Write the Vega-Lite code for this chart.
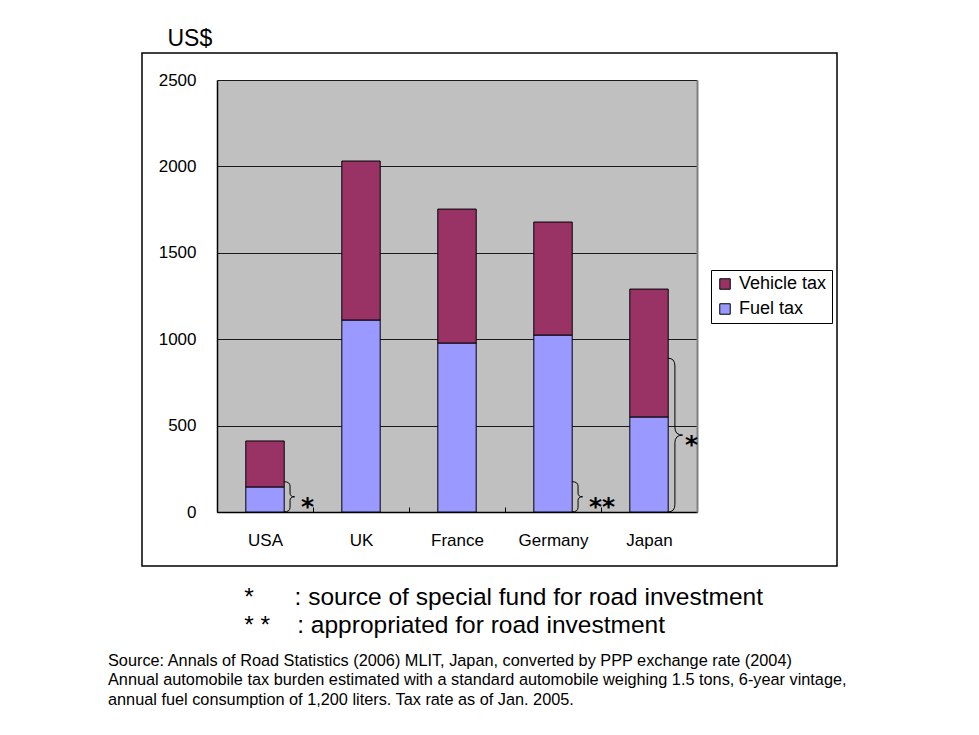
{
  "$schema": "https://vega.github.io/schema/vega-lite/v6.json",
  "width": 695,
  "height": 513,
  "autosize": {"type": "none"},
  "padding": {"left": 142, "top": 53, "right": 142, "bottom": 169},
  "background": "white",
  "config": {
    "font": "Liberation Sans",
    "view": {"stroke": "black", "strokeWidth": 1.5, "fill": "white"}
  },
  "datasets": {
    "taxes": [
      {"country": "USA", "type": "Fuel tax", "amount": 145},
      {"country": "USA", "type": "Vehicle tax", "amount": 266},
      {"country": "UK", "type": "Fuel tax", "amount": 1111},
      {"country": "UK", "type": "Vehicle tax", "amount": 920},
      {"country": "France", "type": "Fuel tax", "amount": 978},
      {"country": "France", "type": "Vehicle tax", "amount": 775},
      {"country": "Germany", "type": "Fuel tax", "amount": 1024},
      {"country": "Germany", "type": "Vehicle tax", "amount": 654},
      {"country": "Japan", "type": "Fuel tax", "amount": 550},
      {"country": "Japan", "type": "Vehicle tax", "amount": 740}
    ],
    "braces": [
      {"country": "USA", "note": "*", "reach": 175, "mid": 88},
      {"country": "Germany", "note": "**", "reach": 175, "mid": 88},
      {"country": "Japan", "note": "*", "reach": 890, "mid": 445}
    ]
  },
  "title": {
    "text": [
      "\u200b\u00a0\u00a0\u00a0\u00a0\u00a0\u00a0\u00a0\u00a0\u00a0\u00a0\u00a0\u00a0\u00a0\u00a0\u00a0\u00a0\u00a0\u00a0\u00a0\u00a0*\u00a0\u00a0\u00a0\u00a0\u00a0\u00a0: source of special fund for road investment",
      "\u200b\u00a0\u00a0\u00a0\u00a0\u00a0\u00a0\u00a0\u00a0\u00a0\u00a0\u00a0\u00a0\u00a0\u00a0\u00a0\u00a0\u00a0\u00a0\u00a0\u00a0*\u00a0*\u00a0\u00a0\u00a0\u00a0: appropriated for road investment"
    ],
    "subtitle": [
      "Source: Annals of Road Statistics (2006) MLIT, Japan, converted by PPP exchange rate (2004)",
      "Annual automobile tax burden estimated with a standard automobile weighing 1.5 tons, 6-year vintage,",
      "annual fuel consumption of 1,200 liters. Tax rate as of Jan. 2005."
    ],
    "orient": "bottom",
    "anchor": "start",
    "frame": "group",
    "baseline": "top",
    "dx": -34,
    "offset": 20,
    "font": "Liberation Sans",
    "fontSize": 24.5,
    "fontWeight": "normal",
    "lineHeight": 28,
    "color": "black",
    "subtitleFont": "Liberation Sans",
    "subtitleFontSize": 16.3,
    "subtitleLineHeight": 19.5,
    "subtitleColor": "black",
    "subtitlePadding": 14
  },
  "layer": [
    {
      "data": {"name": "braces"},
      "transform": [{"filter": "datum.reach < 500"}],
      "mark": {
        "type": "point", "filled": false, "color": "black", "strokeWidth": 1, "opacity": 1, "xOffset": 19,
        "shape": "M0,-1 Q0.4,-1 0.4,-0.7 L0.4,-0.25 Q0.4,0 0.7,0 Q0.4,0 0.4,0.25 L0.4,0.7 Q0.4,1 0,1"
      },
      "encoding": {
        "x": {
          "field": "country", "type": "nominal",
          "scale": {"domain": ["USA", "UK", "France", "Germany", "Japan"], "range": [75, 555], "paddingInner": 0, "paddingOuter": 0},
          "axis": {
            "orient": "top", "offset": 0, "translate": 0, "title": null, "domain": false, "labels": false, "ticks": false,
            "grid": true, "tickBand": "center", "gridColor": "#C0C0C0", "gridWidth": 96, "gridOpacity": 1
          }
        },
        "y": {
          "field": "mid", "type": "quantitative",
          "axis": {"orient": "right", "offset": -140, "title": null, "labels": false, "ticks": false, "grid": false, "domainColor": "#808080", "domainWidth": 2}
        },
        "size": {"field": "reach", "type": "quantitative", "scale": {"type": "pow", "exponent": 2, "domain": [0, 2500], "range": [0, 186624]}, "legend": null}
      }
    },
    {
      "data": {"name": "taxes"},
      "mark": {"type": "bar", "stroke": "black", "strokeWidth": 1, "width": {"band": 0.4}},
      "encoding": {
        "x": {
          "field": "country", "type": "nominal",
          "scale": {"domain": ["USA", "UK", "France", "Germany", "Japan"], "range": [75, 555], "paddingInner": 0, "paddingOuter": 0},
          "axis": {
            "orient": "bottom", "offset": -54, "title": null,
            "domainColor": "black", "domainWidth": 1.5,
            "ticks": true, "tickBand": "extent", "tickSize": -5, "tickColor": "black", "tickWidth": 1,
            "labelFontSize": 17, "labelColor": "black", "labelPadding": 25, "labelAngle": 0, "grid": false
          }
        },
        "y": {
          "field": "amount", "type": "quantitative", "stack": "zero",
          "scale": {"domain": [0, 2500], "range": [459, 27], "nice": false, "zero": true},
          "axis": {
            "orient": "left", "offset": -75,
            "values": [0, 500, 1000, 1500, 2000, 2500], "format": "d",
            "grid": true, "gridColor": "#1a1a1a", "gridWidth": 1, "gridOpacity": 1,
            "ticks": false, "tickSize": 0, "domainColor": "black", "domainWidth": 1.5,
            "labelFontSize": 17, "labelColor": "black", "labelPadding": 21,
            "title": "US$", "titleAngle": 0, "titleAlign": "left", "titleBaseline": "alphabetic",
            "titleX": -50, "titleY": -8, "titleFontSize": 23, "titleFontWeight": "normal", "titleColor": "black"
          }
        },
        "color": {
          "field": "type", "type": "nominal",
          "scale": {"domain": ["Vehicle tax", "Fuel tax"], "range": ["#993366", "#9999FF"]},
          "legend": {
            "title": null, "orient": "none", "legendX": 569, "legendY": 217,
            "padding": 5, "strokeColor": "black", "fillColor": "white",
            "symbolType": "square", "symbolSize": 110, "symbolStrokeColor": "black", "symbolStrokeWidth": 1, "symbolOpacity": 1,
            "labelFontSize": 18, "labelColor": "black", "rowPadding": 7, "labelOffset": 5
          }
        },
        "order": {"field": "type", "sort": "ascending"}
      }
    },
    {
      "data": {"name": "braces"},
      "transform": [{"filter": "datum.reach >= 500"}],
      "mark": {
        "type": "point", "filled": false, "color": "black", "strokeWidth": 1, "opacity": 1, "xOffset": 19,
        "shape": "M0,-1 Q0.09,-1 0.09,-0.9 L0.09,-0.1 Q0.09,0 0.19,0 Q0.09,0 0.09,0.1 L0.09,0.9 Q0.09,1 0,1"
      },
      "encoding": {
        "x": {"field": "country", "type": "nominal", "scale": {"domain": ["USA", "UK", "France", "Germany", "Japan"], "range": [75, 555], "paddingInner": 0, "paddingOuter": 0}, "axis": null},
        "y": {"field": "mid", "type": "quantitative", "axis": null},
        "size": {"field": "reach", "type": "quantitative", "scale": {"type": "pow", "exponent": 2, "domain": [0, 2500], "range": [0, 186624]}, "legend": null}
      }
    },
    {
      "data": {"name": "braces"},
      "mark": {"type": "text", "align": "left", "baseline": "middle", "dx": 36, "dy": 10, "font": "DejaVu Sans", "fontSize": 25, "fontWeight": "bold", "color": "black"},
      "encoding": {
        "x": {"field": "country", "type": "nominal", "scale": {"domain": ["USA", "UK", "France", "Germany", "Japan"], "range": [75, 555], "paddingInner": 0, "paddingOuter": 0}, "axis": null},
        "y": {"field": "mid", "type": "quantitative", "axis": null},
        "text": {"field": "note"}
      }
    }
  ],
  "resolve": {"axis": {"x": "independent", "y": "independent"}}
}
